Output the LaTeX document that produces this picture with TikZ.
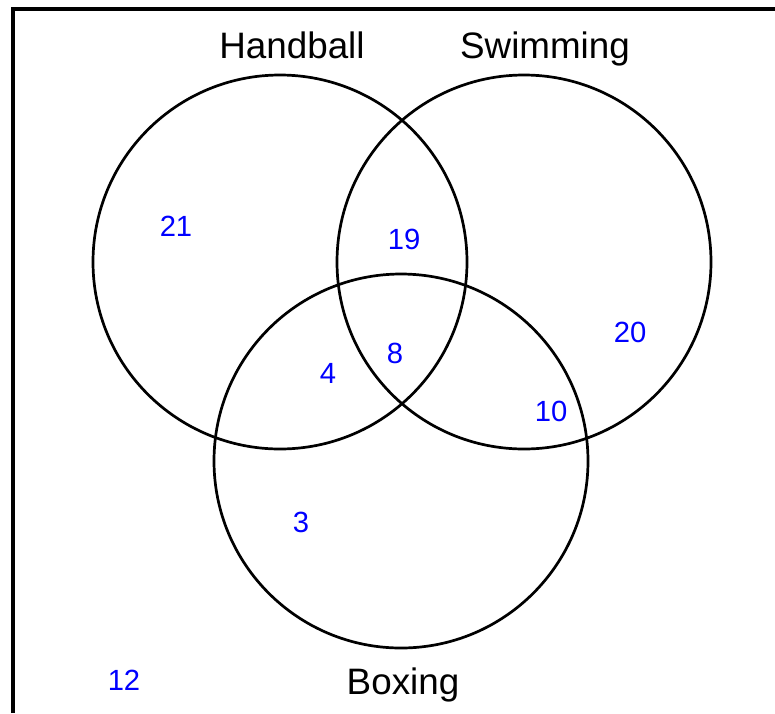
\documentclass[tikz,border=0pt]{standalone}
\usepackage{fontspec}
\setmainfont{Liberation Sans}
\usepackage{tikz}

\begin{document}
\begin{tikzpicture}[x=0.5pt, y=-0.5pt,
    setline/.style={draw=black, line width=1.35pt},
    setname/.style={anchor=base, font=\fontsize{18.4}{22}\selectfont},
    count/.style={text=blue, font=\fontsize{14.6}{17}\selectfont}]

  \useasboundingbox (0,0) rectangle (775,713);

  % Frame (only top and left edges fall inside the picture)
  \draw[line width=1.75pt] (13,713) -- (13,9) -- (775,9);

  % The three sets
  \draw[setline] (280,262) circle[radius=187];
  \draw[setline] (524,262) circle[radius=187];
  \draw[setline] (401,461) circle[radius=187];

  \node[setname] (hand) at (292,58) {Handball};
  \node[setname] (swim) at (545,58) {Swimming};
  \node[setname] (box)  at (403,694) {Boxing};

  % Counts in each region
  \node[count] (nH)   at (176,226) {21};
  \node[count] (nHS)  at (404,239) {19};
  \node[count] (nS)   at (630,332) {20};
  \node[count] (nHB)  at (328,373) {4};
  \node[count] (nHSB) at (395,353) {8};
  \node[count] (nSB)  at (551,411) {10};
  \node[count] (nB)   at (301,522) {3};
  \node[count] (nout) at (124,680) {12};
\end{tikzpicture}
\end{document}
